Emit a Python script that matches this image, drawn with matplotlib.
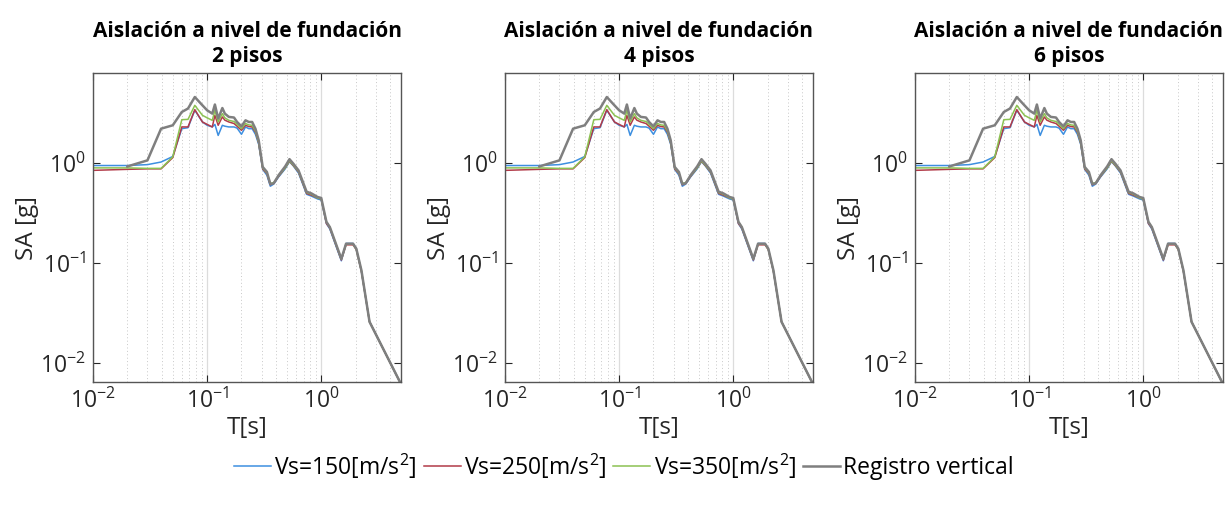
import numpy as np
import matplotlib
matplotlib.use('Agg')
import matplotlib.pyplot as plt
from matplotlib.ticker import LogLocator, NullFormatter

plt.rcParams['font.family'] = ['Open Sans', 'DejaVu Sans']
plt.rcParams['mathtext.fontset'] = 'custom'
plt.rcParams['mathtext.rm'] = 'Open Sans'
plt.rcParams['mathtext.it'] = 'Open Sans:italic'
plt.rcParams['mathtext.bf'] = 'Open Sans:bold'

# periodos T [s]
T = [0.01, 0.02, 0.03, 0.0395, 0.05, 0.06, 0.068, 0.078, 0.091, 0.1, 0.111, 0.117,
     0.125, 0.136, 0.143, 0.155, 0.172, 0.183, 0.2, 0.217, 0.232, 0.248, 0.265, 0.283,
     0.307, 0.334, 0.358, 0.383, 0.423, 0.483, 0.527, 0.57, 0.632, 0.744, 0.82, 0.93,
     1.0, 1.11, 1.19, 1.5, 1.65, 1.9, 2.03, 2.25, 2.65, 5.0]

sa_150 = [0.95, 0.95, 0.97, 1.03, 1.17, 2.22, 2.27, 3.39, 2.59, 2.4, 2.31, 2.45,
          1.9, 2.4, 2.35, 2.31, 2.31, 2.25, 1.95, 2.31, 2.22, 2.22, 1.95, 1.55,
          0.87, 0.76, 0.59, 0.62, 0.73, 0.88, 1.04, 0.94, 0.8, 0.49, 0.47, 0.44,
          0.43, 0.25, 0.22, 0.106, 0.158, 0.158, 0.138, 0.083, 0.026, 0.0062]
sa_250 = [0.85, 0.87, 0.88, 0.88, 1.14, 2.31, 2.31, 3.44, 2.59, 2.45, 2.31, 3.02,
          2.4, 2.91, 2.7, 2.59, 2.5, 2.35, 2.14, 2.4, 2.33, 2.31, 2.05, 1.6,
          0.88, 0.79, 0.61, 0.63, 0.74, 0.9, 1.05, 0.95, 0.82, 0.5, 0.48, 0.45,
          0.44, 0.25, 0.225, 0.108, 0.153, 0.153, 0.137, 0.083, 0.026, 0.0062]
sa_350 = [0.90, 0.90, 0.89, 0.89, 1.16, 2.73, 2.75, 3.8, 3.02, 2.85, 2.69, 3.39,
          2.59, 3.14, 2.85, 2.69, 2.62, 2.45, 2.22, 2.5, 2.42, 2.4, 2.1, 1.62,
          0.9, 0.8, 0.63, 0.64, 0.75, 0.9, 1.06, 0.96, 0.83, 0.51, 0.49, 0.45,
          0.44, 0.26, 0.23, 0.11, 0.155, 0.155, 0.138, 0.084, 0.026, 0.0062]
T_vert = T[1:]
sa_vert = [0.93, 1.07, 2.22, 2.4, 3.26, 3.53, 4.6, 3.8, 3.39, 3.14, 3.87,
           2.8, 3.57, 3.14, 2.91, 2.87, 2.59, 2.34, 2.69, 2.59, 2.59, 2.22, 1.7,
           0.92, 0.82, 0.62, 0.63, 0.76, 0.93, 1.1, 0.99, 0.85, 0.52, 0.50, 0.46,
           0.45, 0.26, 0.23, 0.111, 0.157, 0.157, 0.14, 0.085, 0.026, 0.0062]

pisos = ['2 pisos', '4 pisos', '6 pisos']
labels = ['Vs=150[m/s$^2$]', 'Vs=250[m/s$^2$]', 'Vs=350[m/s$^2$]', 'Registro vertical']
colores = ['#3d8fe0', '#b23a48', '#8cc152', '#7f7f7f']

fig = plt.figure(figsize=(12.3, 5.08), dpi=100)
W, H = 1230, 508
lefts = [93, 505, 915]
ancho = 308
top, bottom = 73, 382

for i, p in enumerate(pisos):
    ax = fig.add_axes([lefts[i] / W, 1 - bottom / H, ancho / W, (bottom - top) / H])
    series = [(T, sa_150), (T, sa_250), (T, sa_350), (T_vert, sa_vert)]
    for k, (x, y) in enumerate(series):
        ax.plot(x, y, color=colores[k], lw=1.8 if k == 3 else 1.1, label=labels[k])
    ax.set_xscale('log')
    ax.set_yscale('log')
    ax.set_xlim(0.01, 5)
    ax.set_ylim(0.0065, 8)
    ax.xaxis.set_minor_locator(LogLocator(base=10, subs=np.arange(2, 10), numticks=20))
    ax.xaxis.set_minor_formatter(NullFormatter())
    ax.yaxis.set_minor_formatter(NullFormatter())
    ax.grid(True, which='major', axis='x', color='#dcdcdc', lw=0.9, ls='-')
    ax.grid(True, which='minor', axis='x', color='#c8c8c8', lw=0.7, ls=(0, (1, 2.5)))
    ax.tick_params(which='both', direction='in', top=True, right=True,
                   labelsize=16.5, colors='#262626', pad=5)
    ax.tick_params(which='major', length=5, width=0.8)
    ax.tick_params(which='minor', length=0)
    for s in ax.spines.values():
        s.set_color('#555555')
        s.set_linewidth(1.0)
    ax.set_xlabel('T[s]', fontsize=17.5, color='#262626', labelpad=1)
    ax.set_ylabel('SA [g]', fontsize=17.5, color='#262626', labelpad=1)
    ax.set_title('Aislación a nivel de fundación\n' + p, fontsize=15,
                 fontweight='bold', linespacing=1.25, pad=8)
    if i == 0:
        handles, labs = ax.get_legend_handles_labels()

fig.legend(handles, labs, loc='center', bbox_to_anchor=(624 / W, 1 - 466 / H),
           ncol=4, frameon=False, fontsize=16.5, handlelength=1.6,
           handletextpad=0.15, columnspacing=0.3)

fig.savefig('out.png', dpi=100)
